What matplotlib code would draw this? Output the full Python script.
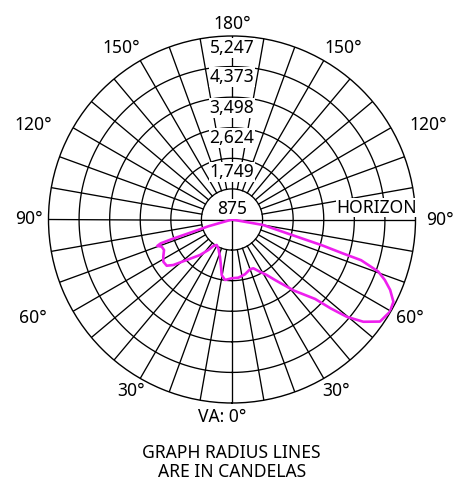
import numpy as np
import matplotlib
matplotlib.use("Agg")
import matplotlib.pyplot as plt

plt.rcParams['font.family'] = ['Noto Sans', 'DejaVu Sans']

# Candela rings shown on the chart
ring_values = [875, 1749, 2624, 3498, 4373, 5247]
ring_labels = ["875", "1,749", "2,624", "3,498", "4,373", "5,247"]

# Vertical angle labels around the chart (negative = left half)
angle_labels = ["180°", "150°", "150°", "120°", "120°", "90°", "90°",
                "60°", "60°", "30°", "30°"]

# Luminous intensity trace: vertical angle from nadir (deg, left half negative)
# and candela value at that angle
curve_angle_deg = [
    -74.0, -74.0, -72.5, -72.0, -71.5, -70.5, -68.9, -65.8, -61.6, -58.4,
    -54.7, -52.2, -48.2, -42.0, -37.8, -35.2, -31.0, -25.4, -17.9, -13.1,
    -10.5, -6.6, -0.3, 6.2, 13.3, 19.9, 23.6, 27.1, 32.0, 35.4,
    41.0, 46.3, 48.0, 49.7, 52.1, 55.4, 59.7, 63.0, 66.0, 68.4,
    70.4, 72.5, 73.0, 74.0, 75.5, 80.0, 80.0,
]
curve_candela = [
    0, 700, 1200, 1770, 2150, 2266, 2155, 2131, 2234, 2305,
    2287, 2123, 1737, 1366, 1104, 927, 850, 912, 1117, 1386,
    1614, 1741, 1681, 1674, 1610, 1514, 1522, 1653, 1872, 2122,
    2690, 3290, 3800, 4300, 4760, 5140, 5230, 5180, 4950, 4700,
    4440, 3870, 3300, 2680, 1777, 900, 0,
]

W, H = 474, 487
fig = plt.figure(figsize=(W / 100, H / 100), dpi=100)
cx, cy, R = 232.0, 219.5, 183.5
ax = fig.add_axes([(cx - R) / W, (H - cy - R) / H, 2 * R / W, 2 * R / H],
                  projection='polar')
ax.set_theta_zero_location('S')
ax.set_theta_direction(1)
rmax = ring_values[-1]
ax.set_ylim(0, rmax)
ax.set_xticks([])
ax.set_yticks([])
ax.grid(False)
ax.spines['polar'].set_linewidth(1.0)
ax.spines['polar'].set_color('black')

lw = 0.95
# rings
t = np.linspace(0, 2 * np.pi, 721)
for v in ring_values[:-1]:
    ax.plot(t, np.full_like(t, v), color='black', lw=lw, zorder=2)

# radial spokes every 10 degrees
for a in range(0, 360, 10):
    th = np.deg2rad(a)
    r0 = 0 if a % 90 == 0 else ring_values[0]
    ax.plot([th, th], [r0, rmax], color='black', lw=lw, zorder=2)

# intensity trace
ax.plot(np.deg2rad(curve_angle_deg), curve_candela, color='#ee1fee',
        lw=1.9, zorder=4, solid_joinstyle='round')

fs = 12.6
# ring value labels along the upper vertical axis
label_r = [292, 1367, 2322, 3179, 4066, 4895]
for txt, r in zip(ring_labels, label_r):
    ax.text(np.pi, r, txt, ha='center', va='center', fontsize=fs, zorder=5,
            bbox=dict(facecolor='white', edgecolor='none', pad=0.6))

# angle labels outside the rim (theta deg, radius in candela units)
label_pos = [(180, 5590), (-147.3, 5844), (147.2, 5850), (-115.4, 6290),
             (115.7, 6221), (-90, 5804), (90, 5947), (-63.7, 6347),
             (61.0, 5804), (-30.5, 5693), (31.2, 5735)]
for txt, (a, r) in zip(angle_labels, label_pos):
    ax.text(np.deg2rad(a), r, txt, ha='center', va='center', fontsize=fs,
            clip_on=False)

ax.annotate("HORIZON", xy=(np.deg2rad(90), rmax), xytext=(1, 2),
            textcoords='offset points', ha='right', va='bottom', fontsize=fs,
            zorder=5, bbox=dict(facecolor='white', edgecolor='none', pad=0.3))

fig.text(222.5 / W, 1 - 417.5 / H, "VA: 0°", ha='center', va='center',
         fontsize=fs)
fig.text(231.0 / W, 1 - 452.5 / H, "GRAPH RADIUS LINES", ha='center',
         va='center', fontsize=fs)
fig.text(231.7 / W, 1 - 472.0 / H, "ARE IN CANDELAS", ha='center',
         va='center', fontsize=fs)

fig.savefig("out.png", dpi=100)
